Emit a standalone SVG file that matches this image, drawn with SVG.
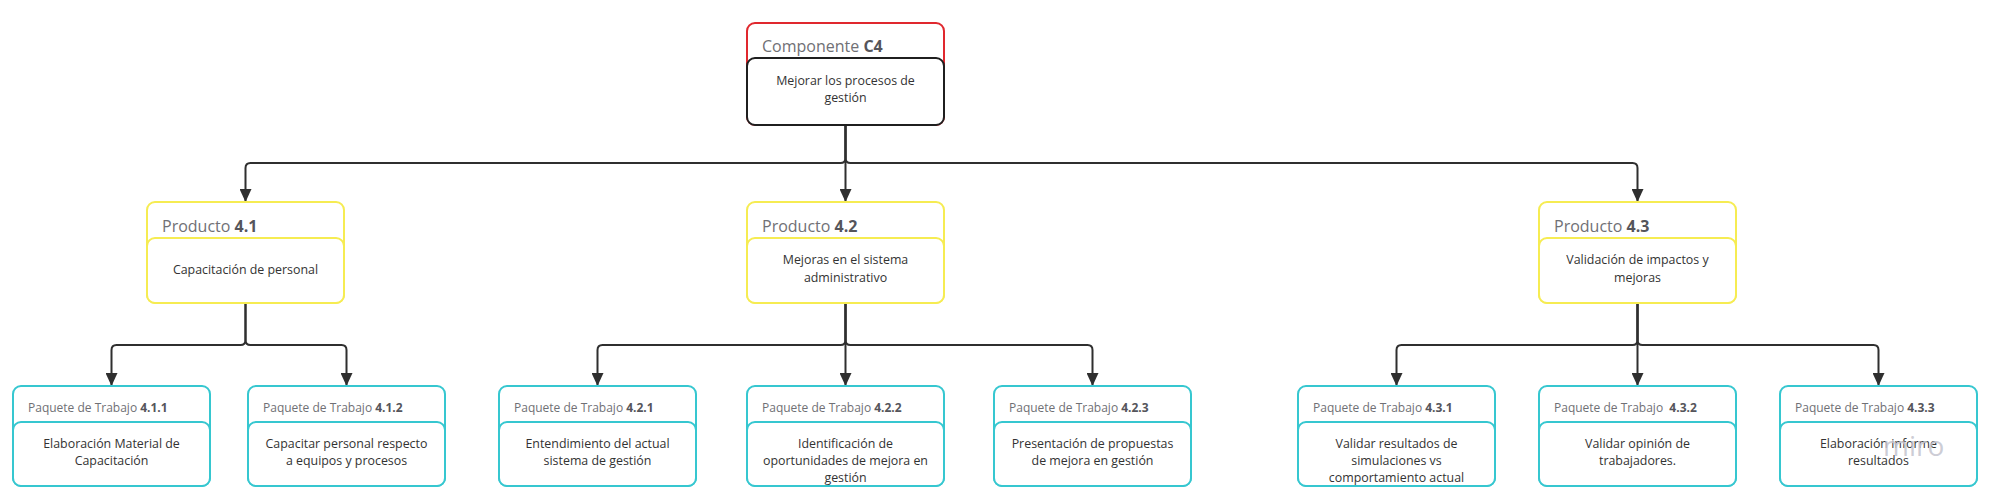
<svg xmlns="http://www.w3.org/2000/svg" width="1991" height="502" viewBox="0 0 1991 502">
<defs>
<marker id="arr" markerUnits="userSpaceOnUse" markerWidth="14" markerHeight="12" refX="13" refY="6" orient="auto">
<path d="M0,0 L13,6 L0,12 Z" fill="#2f2f2f"/>
</marker>
<style>
.c{fill:none;stroke:#2f2f2f;stroke-width:2;marker-end:url(#arr)}
.ro{fill:#fff;stroke:#e0282e;stroke-width:2}
.ri{fill:#fff;stroke:#1f1f1f;stroke-width:2}
.yo,.yi{fill:#fff;stroke:#f6ec52;stroke-width:2}
.po,.pi{fill:#fff;stroke:#36c7d0;stroke-width:2}
text{font-family:"Open Sans","Noto Sans","Liberation Sans",sans-serif}
.h1{font-size:16px;fill:#707075}
.h2{font-size:12px;fill:#707075;white-space:pre}
.b{font-weight:bold;fill:#55555b}
.t{font-size:12.4px;fill:#333;text-anchor:middle}
</style>
</defs>
<rect width="1991" height="502" fill="#fff"/>
<g id="connectors">
<path class="c" d="M845.5,125 V158 Q845.5,163 840.5,163 H250.5 Q245.5,163 245.5,168 V202"/>
<path class="c" d="M845.5,125 V202"/>
<path class="c" d="M845.5,125 V158 Q845.5,163 850.5,163 H1632.5 Q1637.5,163 1637.5,168 V202"/>
<path class="c" d="M245.5,303 V340 Q245.5,345 240.5,345 H116.5 Q111.5,345 111.5,350 V386"/>
<path class="c" d="M245.5,303 V340 Q245.5,345 250.5,345 H341.5 Q346.5,345 346.5,350 V386"/>
<path class="c" d="M845.5,303 V340 Q845.5,345 840.5,345 H602.5 Q597.5,345 597.5,350 V386"/>
<path class="c" d="M845.5,303 V386"/>
<path class="c" d="M845.5,303 V340 Q845.5,345 850.5,345 H1087.5 Q1092.5,345 1092.5,350 V386"/>
<path class="c" d="M1637.5,303 V340 Q1637.5,345 1632.5,345 H1401.5 Q1396.5,345 1396.5,350 V386"/>
<path class="c" d="M1637.5,303 V386"/>
<path class="c" d="M1637.5,303 V340 Q1637.5,345 1642.5,345 H1873.5 Q1878.5,345 1878.5,350 V386"/>
</g>
<g id="c4">
<rect class="ro" x="747" y="23" width="197" height="102" rx="8"/>
<rect class="ri" x="747" y="58" width="197" height="67" rx="8"/>
<text class="h1" x="762" y="52">Componente <tspan class="b">C4</tspan></text>
<text class="t" x="845.5" y="85">Mejorar los procesos de</text>
<text class="t" x="845.5" y="102">gestión</text>
</g>
<g id="p41">
<rect class="yo" x="147" y="202" width="197" height="101" rx="8"/>
<rect class="yi" x="147" y="238" width="197" height="65" rx="8"/>
<text class="h1" x="162" y="232">Producto <tspan class="b">4.1</tspan></text>
<text class="t" x="245.5" y="274">Capacitación de personal</text>
</g>
<g id="p42">
<rect class="yo" x="747" y="202" width="197" height="101" rx="8"/>
<rect class="yi" x="747" y="238" width="197" height="65" rx="8"/>
<text class="h1" x="762" y="232">Producto <tspan class="b">4.2</tspan></text>
<text class="t" x="845.5" y="264">Mejoras en el sistema</text>
<text class="t" x="845.5" y="282">administrativo</text>
</g>
<g id="p43">
<rect class="yo" x="1539" y="202" width="197" height="101" rx="8"/>
<rect class="yi" x="1539" y="238" width="197" height="65" rx="8"/>
<text class="h1" x="1554" y="232">Producto <tspan class="b">4.3</tspan></text>
<text class="t" x="1637.5" y="264">Validación de impactos y</text>
<text class="t" x="1637.5" y="282">mejoras</text>
</g>
<g id="wp411">
<rect class="po" x="13" y="386" width="197" height="100" rx="8"/>
<rect class="pi" x="13" y="422" width="197" height="64" rx="8"/>
<text class="h2" x="28" y="412">Paquete de Trabajo <tspan class="b">4.1.1</tspan></text>
<text class="t" x="111.5" y="448">Elaboración Material de</text>
<text class="t" x="111.5" y="465">Capacitación</text>
</g>
<g id="wp412">
<rect class="po" x="248" y="386" width="197" height="100" rx="8"/>
<rect class="pi" x="248" y="422" width="197" height="64" rx="8"/>
<text class="h2" x="263" y="412">Paquete de Trabajo <tspan class="b">4.1.2</tspan></text>
<text class="t" x="346.5" y="448">Capacitar personal respecto</text>
<text class="t" x="346.5" y="465">a equipos y procesos</text>
</g>
<g id="wp421">
<rect class="po" x="499" y="386" width="197" height="100" rx="8"/>
<rect class="pi" x="499" y="422" width="197" height="64" rx="8"/>
<text class="h2" x="514" y="412">Paquete de Trabajo <tspan class="b">4.2.1</tspan></text>
<text class="t" x="597.5" y="448">Entendimiento del actual</text>
<text class="t" x="597.5" y="465">sistema de gestión</text>
</g>
<g id="wp422">
<rect class="po" x="747" y="386" width="197" height="100" rx="8"/>
<rect class="pi" x="747" y="422" width="197" height="64" rx="8"/>
<text class="h2" x="762" y="412">Paquete de Trabajo <tspan class="b">4.2.2</tspan></text>
<text class="t" x="845.5" y="448">Identificación de</text>
<text class="t" x="845.5" y="465">oportunidades de mejora en</text>
<text class="t" x="845.5" y="482">gestión</text>
</g>
<g id="wp423">
<rect class="po" x="994" y="386" width="197" height="100" rx="8"/>
<rect class="pi" x="994" y="422" width="197" height="64" rx="8"/>
<text class="h2" x="1009" y="412">Paquete de Trabajo <tspan class="b">4.2.3</tspan></text>
<text class="t" x="1092.5" y="448">Presentación de propuestas</text>
<text class="t" x="1092.5" y="465">de mejora en gestión</text>
</g>
<g id="wp431">
<rect class="po" x="1298" y="386" width="197" height="100" rx="8"/>
<rect class="pi" x="1298" y="422" width="197" height="64" rx="8"/>
<text class="h2" x="1313" y="412">Paquete de Trabajo <tspan class="b">4.3.1</tspan></text>
<text class="t" x="1396.5" y="448">Validar resultados de</text>
<text class="t" x="1396.5" y="465">simulaciones vs</text>
<text class="t" x="1396.5" y="482">comportamiento actual</text>
</g>
<g id="wp432">
<rect class="po" x="1539" y="386" width="197" height="100" rx="8"/>
<rect class="pi" x="1539" y="422" width="197" height="64" rx="8"/>
<text class="h2" x="1554" y="412">Paquete de Trabajo  <tspan class="b">4.3.2</tspan></text>
<text class="t" x="1637.5" y="448">Validar opinión de</text>
<text class="t" x="1637.5" y="465">trabajadores.</text>
</g>
<g id="wp433">
<rect class="po" x="1780" y="386" width="197" height="100" rx="8"/>
<rect class="pi" x="1780" y="422" width="197" height="64" rx="8"/>
<text class="h2" x="1795" y="412">Paquete de Trabajo <tspan class="b">4.3.3</tspan></text>
<text class="t" x="1878.5" y="448">Elaboración informe</text>
<text class="t" x="1878.5" y="465">resultados</text>
</g>
<text x="1883" y="456" font-size="28" fill="#c4c4ce" fill-opacity="0.85" style="font-family:'Open Sans','Liberation Sans',sans-serif">miro</text>
</svg>
